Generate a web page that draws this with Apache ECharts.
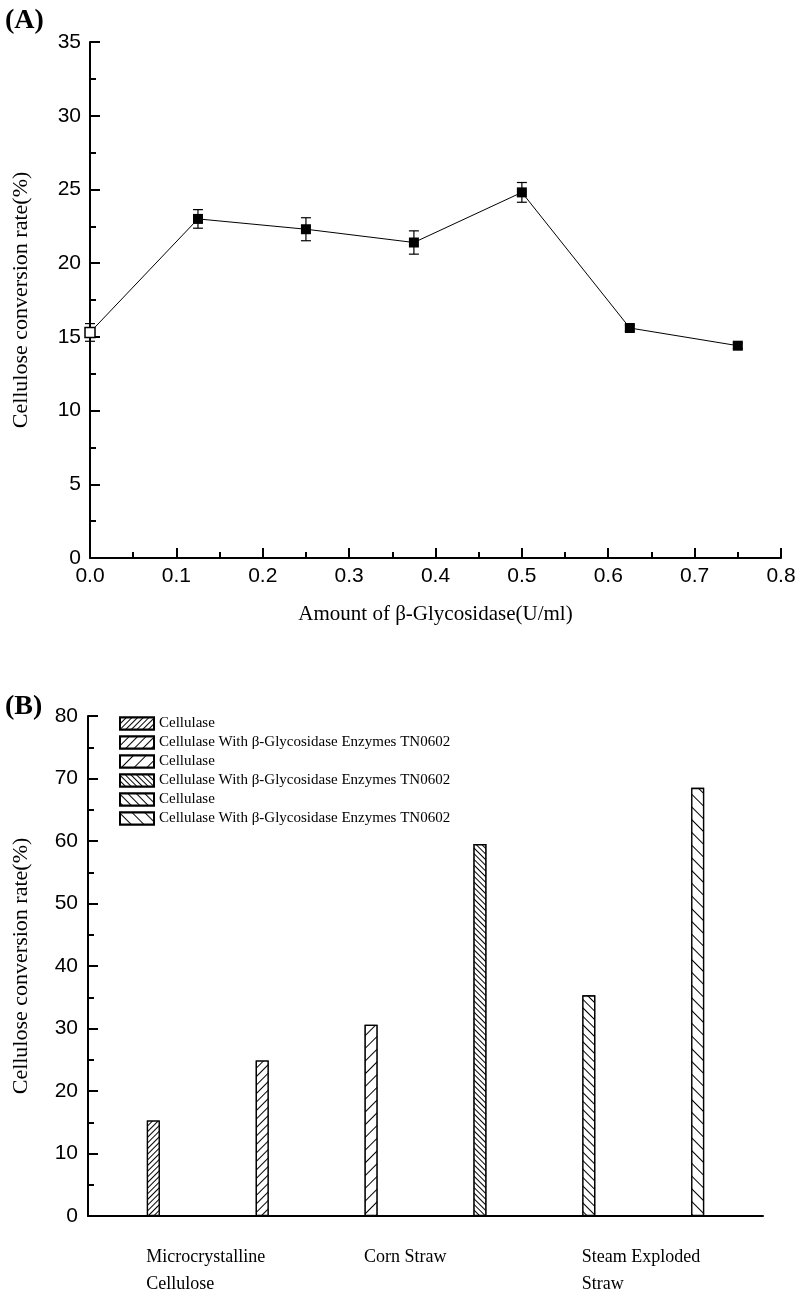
<!DOCTYPE html>
<html>
<head>
<meta charset="utf-8">
<script src="https://cdn.jsdelivr.net/npm/echarts@6/dist/echarts.min.js"></script>
<style>
html,body{margin:0;padding:0;background:#fff;}
#chart{width:799px;height:1298px;}
</style>
</head>
<body>
<div id="chart"></div>
<script>
// ---- Panel A data ----
const doseX = [0, 0.125, 0.25, 0.375, 0.5, 0.625, 0.75];
const rateA = [15.3, 23.0, 22.3, 21.4, 24.8, 15.6, 14.4];
const errA = [0.6, 0.63, 0.78, 0.79, 0.67, 0.2, 0.2];
const xTicksA = ['0.0','0.1','0.2','0.3','0.4','0.5','0.6','0.7','0.8'];

// ---- Panel B data ----
const substrates = ['Microcrystalline\nCellulose', 'Corn Straw', 'Steam Exploded\nStraw'];
const barSlots = [0, 1, 2, 3, 4, 5];
const barNames = ['Cellulase', 'Cellulase With β-Glycosidase Enzymes TN0602',
                  'Cellulase', 'Cellulase With β-Glycosidase Enzymes TN0602',
                  'Cellulase', 'Cellulase With β-Glycosidase Enzymes TN0602'];
const barValues = [15.3, 24.9, 30.6, 59.5, 35.3, 68.5];

const SERIF = "'Liberation Serif','Times New Roman',serif";
const SANS = "'Liberation Sans',Arial,sans-serif";

function hatch(gap, dir) {
  return {
    symbol: 'rect', symbolSize: 1, color: '#000', backgroundColor: '#fff',
    dashArrayX: [1, 0], dashArrayY: [1, gap], rotation: dir * Math.PI / 4
  };
}
const decals = [hatch(3, -1), hatch(5, -1), hatch(8, -1), hatch(3, 1), hatch(5, 1), hatch(8, 1)];

const chart = echarts.init(document.getElementById('chart'), null, {renderer: 'canvas'});

const barSeries = barValues.map((v, i) => ({
  name: 'b' + i,
  type: 'bar',
  xAxisIndex: 1, yAxisIndex: 1,
  barWidth: 13,
  barGap: '-100%',
  data: [[barSlots[i], v]],
  itemStyle: {color: '#fff', borderColor: '#000', borderWidth: 1.3, decal: decals[i]},
  emphasis: {disabled: true}
}));

const labelShift = -0.065; // small leftward nudge so category text starts at bar edge

const option = {
  animation: false,
  aria: {enabled: false},
  title: [
    {text: '(A)', left: 0, top: 2, textStyle: {fontFamily: SERIF, fontWeight: 'bold', fontSize: 28, color: '#000'}},
    {text: '(B)', left: 0, top: 688, textStyle: {fontFamily: SERIF, fontWeight: 'bold', fontSize: 28, color: '#000'}}
  ],
  legend: {
    orient: 'vertical', left: 119, top: 716, padding: 0,
    itemWidth: 34, itemHeight: 12, itemGap: 4,
    icon: 'rect',
    data: barNames.map((n, i) => ({name: 'b' + i})),
    formatter: function (name) { return barNames[+name.slice(1)]; },
    textStyle: {fontFamily: SERIF, fontSize: 15, lineHeight: 15, color: '#000'},
    selectedMode: false
  },
  grid: [
    {left: 90, right: 18, top: 42, height: 516},
    {left: 88, right: 36, top: 716, height: 501}
  ],
  xAxis: [
    {
      type: 'value', gridIndex: 0, min: 0, max: 0.8, interval: 0.1,
      name: 'Amount of β-Glycosidase(U/ml)', nameLocation: 'middle', nameGap: 46,
      nameTextStyle: {fontFamily: SERIF, fontSize: 21, color: '#000'},
      axisLine: {lineStyle: {color: '#000', width: 2}},
      axisTick: {inside: true, length: 10, lineStyle: {color: '#000', width: 2}},
      minorTick: {show: true, splitNumber: 2, length: 6, lineStyle: {color: '#000', width: 2}},
      splitLine: {show: false},
      axisLabel: {fontFamily: SANS, fontSize: 21, color: '#000', margin: 8,
        formatter: v => xTicksA[Math.round(v * 10)]}
    },
    {
      type: 'value', gridIndex: 1, min: -0.6, max: 5.6,
      axisLine: {onZero: false, lineStyle: {color: '#000', width: 2}},
      axisTick: {show: false},
      splitLine: {show: false},
      axisLabel: {
        customValues: [0, 2, 4].map(v => v + labelShift),
        showMinLabel: true, showMaxLabel: true,
        align: 'left', margin: 28, lineHeight: 27,
        fontFamily: SERIF, fontSize: 18, color: '#000',
        formatter: v => substrates[Math.round((v - labelShift) / 2)]
      }
    }
  ],
  yAxis: [
    {
      type: 'value', gridIndex: 0, min: 0, max: 35, interval: 5,
      name: 'Cellulose conversion rate(%)', nameLocation: 'middle', nameGap: 58,
      nameTextStyle: {fontFamily: SERIF, fontSize: 22, color: '#000'},
      axisLine: {show: true, onZero: false, lineStyle: {color: '#000', width: 2}},
      axisTick: {show: true, inside: true, length: 10, lineStyle: {color: '#000', width: 2}},
      minorTick: {show: true, splitNumber: 2, length: 6, lineStyle: {color: '#000', width: 2}},
      splitLine: {show: false},
      axisLabel: {fontFamily: SANS, fontSize: 21, color: '#000', margin: 9}
    },
    {
      type: 'value', gridIndex: 1, min: 0, max: 80, interval: 10,
      name: 'Cellulose conversion rate(%)', nameLocation: 'middle', nameGap: 56,
      nameTextStyle: {fontFamily: SERIF, fontSize: 22, color: '#000'},
      axisLine: {show: true, onZero: false, lineStyle: {color: '#000', width: 2}},
      axisTick: {show: true, inside: true, length: 10, lineStyle: {color: '#000', width: 2}},
      minorTick: {show: true, splitNumber: 2, length: 6, lineStyle: {color: '#000', width: 2}},
      splitLine: {show: false},
      axisLabel: {fontFamily: SANS, fontSize: 21, color: '#000', margin: 10}
    }
  ],
  series: [
    {
      type: 'custom', xAxisIndex: 0, yAxisIndex: 0, z: 1,
      data: doseX.map((x, i) => [x, rateA[i], errA[i]]),
      renderItem: function (params, api) {
        const x = api.value(0), y = api.value(1), e = api.value(2);
        const top = api.coord([x, y + e]);
        const bot = api.coord([x, y - e]);
        const w = 5;
        const st = {stroke: '#000', lineWidth: 1.2};
        return {
          type: 'group',
          children: [
            {type: 'line', shape: {x1: top[0], y1: top[1], x2: bot[0], y2: bot[1]}, style: st},
            {type: 'line', shape: {x1: top[0] - w, y1: top[1], x2: top[0] + w, y2: top[1]}, style: st},
            {type: 'line', shape: {x1: bot[0] - w, y1: bot[1], x2: bot[0] + w, y2: bot[1]}, style: st}
          ]
        };
      },
      silent: true
    },
    {
      type: 'line', xAxisIndex: 0, yAxisIndex: 0, z: 3,
      data: doseX.map((x, i) => i === 0
        ? {value: [x, rateA[i]], itemStyle: {color: '#fff', borderColor: '#000', borderWidth: 1.5}}
        : [x, rateA[i]]),
      symbol: 'rect', symbolSize: 10,
      lineStyle: {color: '#000', width: 1},
      itemStyle: {color: '#000'},
      clip: false,
      emphasis: {disabled: true}
    }
  ].concat(barSeries)
};
chart.setOption(option);
</script>
</body>
</html>
